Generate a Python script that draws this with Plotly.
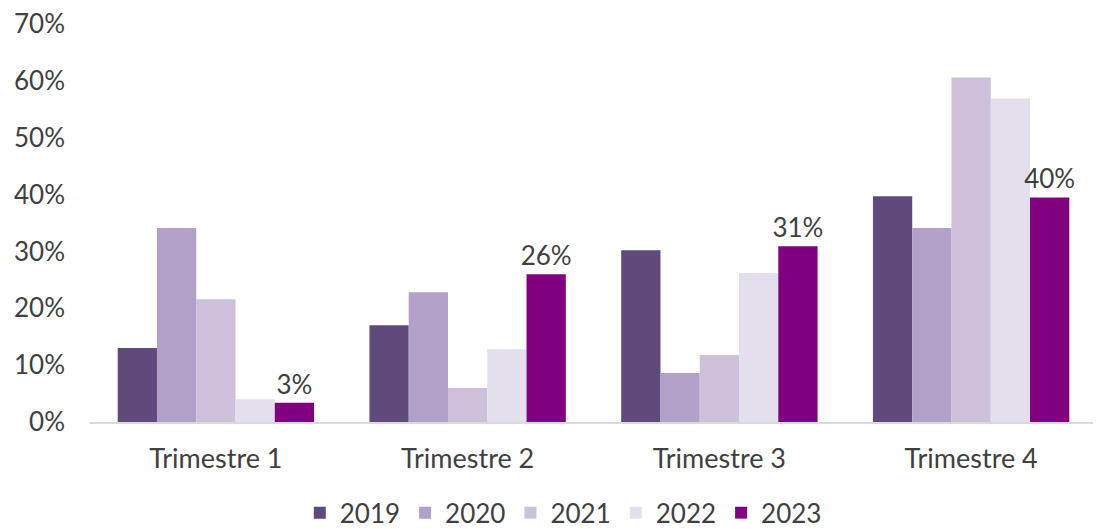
import plotly.graph_objects as go

# ── Data ──────────────────────────────────────────────────────────────────────
quarters = ["Trimestre 1", "Trimestre 2", "Trimestre 3", "Trimestre 4"]
years = ["2019", "2020", "2021", "2022", "2023"]
values = {
    "2019": [0.130, 0.170, 0.302, 0.397],
    "2020": [0.341, 0.228, 0.086, 0.341],
    "2021": [0.216, 0.060, 0.118, 0.606],
    "2022": [0.040, 0.128, 0.262, 0.569],
    "2023": [0.034, 0.260, 0.309, 0.395],
}
colors = {
    "2019": "#604A7B",
    "2020": "#B1A0C7",
    "2021": "#CCC0DA",
    "2022": "#E4DFEC",
    "2023": "#800080",
}
FONT = "Lato, 'Open Sans', sans-serif"
TXT = "#404040"
FS = 26

fig = go.Figure()
for yr in years:
    labelled = yr == "2023"
    fig.add_trace(go.Bar(
        name=yr,
        x=quarters,
        y=values[yr],
        marker=dict(color=colors[yr], line=dict(width=0)),
        text=[f"{v:.0%}" for v in values[yr]] if labelled else None,
        textposition="outside" if labelled else "none",
        textfont=dict(size=FS, color=TXT, family=FONT),
        constraintext="none",
        cliponaxis=False,
    ))

# page body has an 8px margin, so the figure sits at (8, 8) in the window;
# size it so it fits inside 1101x529
fig.update_layout(
    width=1093, height=521,
    barmode="group",
    bargap=0.22,
    bargroupgap=0,
    plot_bgcolor="white",
    paper_bgcolor="white",
    font=dict(family=FONT, color=TXT, size=FS),
    margin=dict(l=82, r=4, t=16, b=107, autoexpand=False),
    legend=dict(
        orientation="h",
        x=0.470, xanchor="center",
        y=-0.228, yanchor="middle",
        font=dict(size=FS, color=TXT),
        traceorder="normal",
        itemwidth=30,
    ),
    xaxis=dict(
        showline=True, linecolor="#D9D9D9", linewidth=1.5,
        ticks="", tickfont=dict(size=27, color=TXT),
        ticklabelstandoff=12,
        automargin=False,
    ),
    yaxis=dict(
        range=[0, 0.7], dtick=0.1, tickformat=".0%",
        showgrid=False, zeroline=False, showline=False,
        tickfont=dict(size=FS, color=TXT),
        ticklabelstandoff=24,
        ticklabeloverflow="allow",
        automargin=False,
    ),
    showlegend=True,
)

fig.write_html("out.html")
